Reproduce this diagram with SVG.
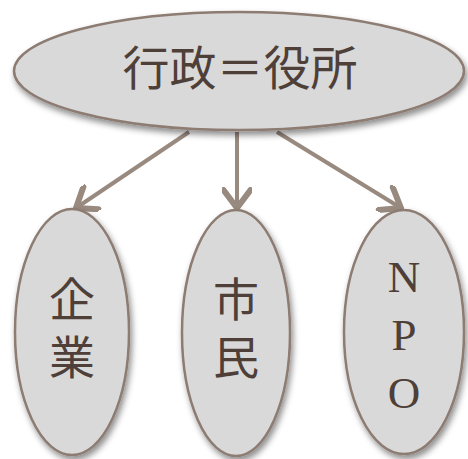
<svg xmlns="http://www.w3.org/2000/svg" width="468" height="459" viewBox="0 0 468 459">
<defs>
<filter id="sh" x="-20%" y="-20%" width="140%" height="140%">
<feDropShadow dx="2" dy="4" stdDeviation="3" flood-color="#000" flood-opacity="0.45"/>
</filter>
<marker id="arr" markerUnits="userSpaceOnUse" markerWidth="30" markerHeight="30" refX="14" refY="10" orient="auto" viewBox="0 0 20 20">
<path d="M2,1 L14,10 L2,19" fill="none" stroke="#998a80" stroke-width="4" stroke-linecap="round" stroke-linejoin="round"/>
</marker>
<style>
.node{fill:#d9d9d9;stroke:#8c7b72;stroke-width:2.5;filter:url(#sh)}
.jp{font-family:"Noto Sans CJK JP","Noto Sans CJK SC",sans-serif;fill:#4e3f38;text-anchor:middle}
.v{writing-mode:vertical-rl;letter-spacing:12px}
.en{font-family:"Liberation Serif",serif;fill:#4e3f38;text-anchor:middle}
.conn{stroke:#998a80;stroke-width:4;fill:none;marker-end:url(#arr)}
</style>
</defs>
<g id="connectors">
<line class="conn" x1="189" y1="132" x2="76" y2="208"/>
<line class="conn" x1="237" y1="132" x2="237" y2="208"/>
<line class="conn" x1="277" y1="132" x2="401" y2="208"/>
</g>
<g id="top">
<ellipse class="node" cx="239" cy="71" rx="225" ry="59"/>
<text class="jp" x="240" y="85" font-size="47">行政＝役所</text>
</g>
<g id="kigyo">
<ellipse class="node" cx="72" cy="332" rx="57" ry="123"/>
<text class="jp v" x="72" y="334" font-size="46">企業</text>
</g>
<g id="shimin">
<ellipse class="node" cx="236" cy="333" rx="54" ry="123"/>
<text class="jp v" x="236" y="334" font-size="46">市民</text>
</g>
<g id="npo">
<ellipse class="node" cx="404" cy="332" rx="60" ry="122"/>
<text class="en" x="404" y="292" font-size="45">N</text>
<text class="en" x="404" y="350" font-size="45">P</text>
<text class="en" x="404" y="408" font-size="45">O</text>
</g>
</svg>
